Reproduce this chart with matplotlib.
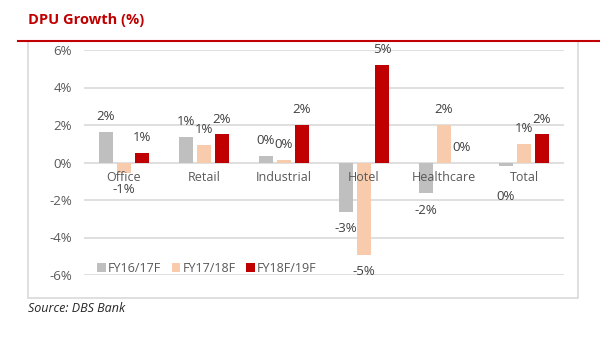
#!/usr/bin/env python3
import numpy as np
import matplotlib
matplotlib.use("Agg")
import matplotlib.pyplot as plt
from matplotlib.patches import Rectangle
from matplotlib.lines import Line2D

plt.rcParams["font.family"] = ["Open Sans", "DejaVu Sans"]

# data
categories = ["Office", "Retail", "Industrial", "Hotel", "Healthcare", "Total"]
series = ["FY16/17F", "FY17/18F", "FY18F/19F"]
fy16 = [1.65, 1.35, 0.34, -2.63, -1.65, -0.2]
fy17 = [-0.55, 0.96, 0.15, -4.94, 2.0, 1.0]
fy18 = [0.5, 1.5, 2.0, 5.2, 0.0, 1.5]
yticks = [-6, -4, -2, 0, 2, 4, 6]

colors = ["#BFBFBF", "#F8CBAD", "#C00000"]
txt = "#595959"

fig = plt.figure(figsize=(6.0, 3.64), dpi=100)
W, H = 600, 364

def fx(px):
    return px / W

def fy(py):
    return 1 - py / H

def pct(v):
    # excel style rounding
    r = int(np.floor(v + 0.5))
    return f"{r}%"

# frame + header
fig.patches.append(Rectangle((fx(28), fy(298)), fx(578) - fx(28), fy(41) - fy(298),
                             transform=fig.transFigure, fill=False,
                             edgecolor="#D9D9D9", lw=1.2))
fig.lines.append(Line2D([fx(18), 1.0], [fy(41), fy(41)], transform=fig.transFigure,
                        color="#C00000", lw=1.5))
fig.text(fx(28), fy(20), "DPU Growth (%)", color="#C00000", fontsize=10.5,
         fontweight="bold", va="center", ha="left")
fig.text(fx(28), fy(309), "Source: DBS Bank", color="#262626", fontsize=9,
         style="italic", va="center", ha="left")

ax = fig.add_axes([fx(84), fy(275), fx(564) - fx(84), fy(50) - fy(275)])
x = np.arange(len(categories))
w = 0.175
offs = [-0.225, 0.0, 0.225]

for i, (vals, c) in enumerate(zip([fy16, fy17, fy18], colors)):
    ax.bar(x + offs[i], vals, width=w, color=c, label=series[i], zorder=3)
    for j, v in enumerate(vals):
        dy = 11 if v >= 0 else -12
        if categories[j] == "Total" and i == 0:
            dy = -22
        ax.annotate(pct(v), (x[j] + offs[i], v),
                    xytext=(0, dy), textcoords="offset points",
                    ha="center", va="center", fontsize=9.5, color="#404040",
                    annotation_clip=False)

for j, cat in enumerate(categories):
    ax.annotate(cat, (x[j], 0), xytext=(0, -11), textcoords="offset points",
                ha="center", va="center", fontsize=9, color=txt, zorder=4)

ax.set_xlim(-0.5, len(categories) - 0.5)
ax.set_ylim(-6, 6)
ax.set_yticks(yticks)
ax.set_yticklabels([f"{t}%" for t in yticks])
ax.tick_params(axis="y", length=0, labelsize=9.5, labelcolor=txt, pad=8.5)
ax.set_xticks([])
ax.grid(axis="y", color="#D9D9D9", lw=1.2, zorder=0)
for s in ax.spines.values():
    s.set_visible(False)

fig.legend(loc="center left", bbox_to_anchor=(fx(97), fy(268)), ncol=3,
           frameon=False, fontsize=9, handlelength=0.7, handleheight=0.7,
           handletextpad=0.2, columnspacing=0.8, labelcolor=txt,
           borderaxespad=0, borderpad=0)

fig.savefig("out.png", dpi=100)
